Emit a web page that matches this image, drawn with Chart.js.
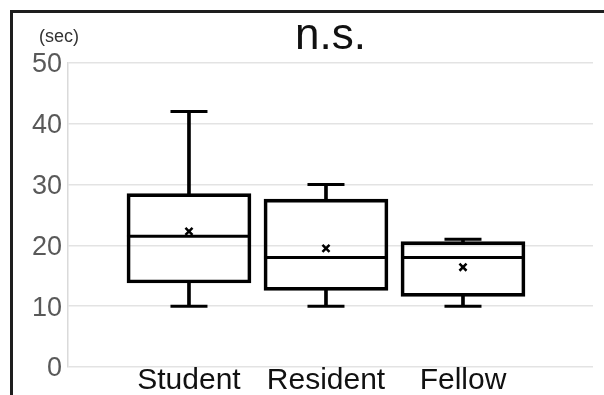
<!DOCTYPE html>
<html>
<head>
<meta charset="utf-8">
<script src="https://cdn.jsdelivr.net/npm/chart.js@4/dist/chart.umd.min.js"></script>
<style>
    body { margin: 0; background: #fff; }
    #wrap { position: relative; width: 604px; height: 395px; overflow: hidden; }
    #frame {
        position: absolute; left: 10px; top: 10px; right: 0; bottom: 0;
        border-left: 3px solid #1e1e1e; border-top: 3px solid #1e1e1e;
        pointer-events: none;
    }
</style>
</head>
<body>
<div id="wrap">
    <canvas id="boxplot" width="604" height="395"></canvas>
    <div id="frame"></div>
</div>
<script>
// box plot values (sec)
var categories = ["Student", "Resident", "Fellow"];
var mins = [10, 10, 10];
var q1s = [13.8, 12.6, 11.6];
var medians = [21.5, 18, 18];
var q3s = [28.5, 27.6, 20.6];
var maxs = [42, 30, 21];
var means = [22.3, 19.5, 16.4];
var yTicks = [0, 10, 20, 30, 40, 50];

!(function () {
    "use strict";

    var font = "'Liberation Sans', Arial, sans-serif";

    // helpers to build {x, y} points from the arrays
    function range(lo, hi) {
        return categories.map(function (c, i) {
            return { x: i, y: [lo[i], hi[i]] };
        });
    }
    function points(vals) {
        return categories.map(function (c, i) {
            return { x: i, y: vals[i] };
        });
    }

    // "(sec)" unit label above the y axis
    var unitLabel = {
        id: "unitLabel",
        afterDraw: function (chart) {
            var ctx = chart.ctx, area = chart.chartArea;
            ctx.save();
            ctx.font = "18px " + font;
            ctx.fillStyle = "#333";
            ctx.textAlign = "center";
            ctx.textBaseline = "middle";
            ctx.fillText("(sec)", area.left - 9, area.top - 26);
            ctx.restore();
        },
    };

    new Chart(document.getElementById("boxplot").getContext("2d"), {
        type: "bar",
        data: {
            datasets: [
                // whisker stems
                {
                    data: range(q3s, maxs),
                    backgroundColor: "#000",
                    borderWidth: 0,
                    barThickness: 3,
                    grouped: false,
                    order: 3,
                },
                {
                    data: range(mins, q1s),
                    backgroundColor: "#000",
                    borderWidth: 0,
                    barThickness: 3,
                    grouped: false,
                    order: 3,
                },
                // boxes
                {
                    data: range(q1s, q3s),
                    backgroundColor: "rgba(0,0,0,0)",
                    borderColor: "#000",
                    borderWidth: 3,
                    borderSkipped: false,
                    barThickness: 124,
                    grouped: false,
                    order: 2,
                },
                // medians
                {
                    type: "scatter",
                    data: points(medians),
                    pointStyle: "line",
                    radius: 62,
                    borderWidth: 3,
                    borderColor: "#000",
                    order: 1,
                },
                // whisker caps
                {
                    type: "scatter",
                    data: points(maxs).concat(points(mins)),
                    pointStyle: "line",
                    radius: 18.5,
                    borderWidth: 3,
                    borderColor: "#000",
                    order: 1,
                },
                // means
                {
                    type: "scatter",
                    data: points(means),
                    pointStyle: "crossRot",
                    radius: 5,
                    borderWidth: 2.5,
                    borderColor: "#000",
                    order: 0,
                },
            ],
        },
        options: {
            responsive: false,
            animation: false,
            layout: {
                autoPadding: false,
                padding: { left: 0, right: 11, top: 0, bottom: 0 },
            },
            plugins: {
                legend: { display: false },
                tooltip: { enabled: false },
                title: {
                    display: true,
                    text: "n.s.",
                    fullSize: false,
                    color: "#111",
                    font: { family: font, size: 44, weight: "normal" },
                    padding: { top: 10, bottom: 0 },
                },
            },
            scales: {
                x: {
                    type: "linear",
                    offset: false,
                    min: -0.883,
                    max: 2.949,
                    grid: { display: false, offset: false },
                    border: { display: false },
                    afterBuildTicks: function (scale) {
                        scale.ticks = categories.map(function (c, i) {
                            return { value: i };
                        });
                    },
                    afterFit: function (scale) {
                        scale.height = 28;
                        scale.paddingLeft = 0;
                        scale.paddingRight = 0;
                    },
                    ticks: {
                        autoSkip: false,
                        maxRotation: 0,
                        padding: -12,
                        color: "#111",
                        font: { family: font, size: 30 },
                        callback: function (v) {
                            return categories[v];
                        },
                    },
                },
                y: {
                    min: 0,
                    max: 50,
                    afterBuildTicks: function (scale) {
                        scale.ticks = yTicks.map(function (v) {
                            return { value: v };
                        });
                    },
                    afterFit: function (scale) {
                        scale.width = 68;
                    },
                    grid: { color: "#e3e3e3", lineWidth: 1.5, drawTicks: false },
                    border: { display: true, color: "#dadada", width: 1.5 },
                    ticks: {
                        padding: 6,
                        labelOffset: 2,
                        color: "#595959",
                        font: { family: font, size: 27 },
                    },
                },
            },
        },
        plugins: [unitLabel],
    });
})();
</script>
</body>
</html>
